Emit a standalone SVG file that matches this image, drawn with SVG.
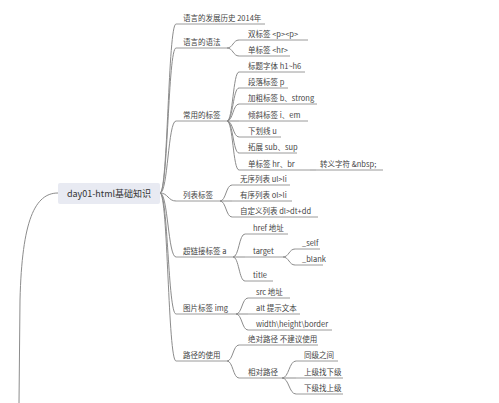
<svg xmlns="http://www.w3.org/2000/svg" width="499" height="403" viewBox="0 0 499 403">
<style>
.c{fill:none;stroke:#8c8c8c;stroke-width:1}
.u{fill:none;stroke:#9a9a9a;stroke-width:1}
.t{font-family:"Noto Sans CJK SC","Noto Sans",sans-serif;font-size:7.5px;fill:#444}
.r{font-family:"Noto Sans CJK SC","Noto Sans",sans-serif;font-size:9px;fill:#333}
</style>
<rect width="499" height="403" fill="#fff"/>
<g id="connectors">
<path class="c" d="M58,193 C35,193 22,220 20,300 L19,403"/>
<path class="c" d="M160,193 C168,193 168,24 176,24"/>
<path class="c" d="M160,193 C168,193 168,48 176,48"/>
<path class="c" d="M160,193 C168,193 168,121 176,121"/>
<path class="c" d="M160,193 C168,193 168,201 176,201"/>
<path class="c" d="M160,193 C168,193 168,257 176,257"/>
<path class="c" d="M160,193 C168,193 168,314 176,314"/>
<path class="c" d="M160,193 C168,193 168,361 176,361"/>
<path class="c" d="M227,48 C233,48 233,40 239,40"/>
<path class="c" d="M227,48 C233,48 233,56 239,56"/>
<path class="c" d="M227,121 C233,121 233,72 239,72"/>
<path class="c" d="M227,121 C233,121 233,88 239,88"/>
<path class="c" d="M227,121 C233,121 233,104 239,104"/>
<path class="c" d="M227,121 L239,121"/>
<path class="c" d="M227,121 C233,121 233,137 239,137"/>
<path class="c" d="M227,121 C233,121 233,153 239,153"/>
<path class="c" d="M227,121 C233,121 233,170 239,170"/>
<path class="c" d="M310,170 L316,170"/>
<path class="c" d="M220,201 C226,201 226,185 232,185"/>
<path class="c" d="M220,201 L232,201"/>
<path class="c" d="M220,201 C226,201 226,217 232,217"/>
<path class="c" d="M233,257 C239,257 239,234 245,234"/>
<path class="c" d="M233,257 L245,257"/>
<path class="c" d="M233,257 C239,257 239,281 245,281"/>
<path class="c" d="M283,257 C289,257 289,249 295,249"/>
<path class="c" d="M283,257 C289,257 289,265 295,265"/>
<path class="c" d="M236,314 C242,314 242,298 248,298"/>
<path class="c" d="M236,314 L248,314"/>
<path class="c" d="M236,314 C242,314 242,330 248,330"/>
<path class="c" d="M227,361 C233,361 233,345 239,345"/>
<path class="c" d="M227,361 C233,361 233,378 239,378"/>
<path class="c" d="M282,378 C289,378 289,361 296,361"/>
<path class="c" d="M282,378 L296,378"/>
<path class="c" d="M282,378 C289,378 289,394 296,394"/>
</g>
<g id="root">
<rect x="58" y="183" width="102" height="21" rx="2" fill="#e8eaf2"/>
<text class="r" x="109" y="196.5" text-anchor="middle">day01-html基础知识</text>
</g>
<g id="n1"><path class="u" d="M176,24 H265"/><text class="t" x="183" y="20.5">语言的发展历史 2014年</text></g>
<g id="n2"><path class="u" d="M176,48 H227"/><text class="t" x="183" y="44.5">语言的语法</text></g>
<g id="n3"><path class="u" d="M176,121 H227"/><text class="t" x="183" y="117.5">常用的标签</text></g>
<g id="n4"><path class="u" d="M176,201 H220"/><text class="t" x="183" y="197.5">列表标签</text></g>
<g id="n5"><path class="u" d="M176,257 H233"/><text class="t" x="183" y="253.5">超链接标签 a</text></g>
<g id="n6"><path class="u" d="M176,314 H236"/><text class="t" x="183" y="310.5">图片标签 img</text></g>
<g id="n7"><path class="u" d="M176,361 H227"/><text class="t" x="183" y="357.5">路径的使用</text></g>
<g id="n2a"><path class="u" d="M239,40 H308"/><text class="t" x="248" y="36.5">双标签 &lt;p&gt;&lt;p&gt;</text></g>
<g id="n2b"><path class="u" d="M239,56 H290"/><text class="t" x="248" y="52.5">单标签 &lt;hr&gt;</text></g>
<g id="n3a"><path class="u" d="M239,72 H305"/><text class="t" x="248" y="68.5">标题字体 h1~h6</text></g>
<g id="n3b"><path class="u" d="M239,88 H288"/><text class="t" x="248" y="84.5">段落标签 p</text></g>
<g id="n3c"><path class="u" d="M239,104 H317"/><text class="t" x="248" y="100.5">加粗标签 b、strong</text></g>
<g id="n3d"><path class="u" d="M239,121 H308"/><text class="t" x="248" y="117.5">倾斜标签 i、em</text></g>
<g id="n3e"><path class="u" d="M239,137 H281"/><text class="t" x="248" y="133.5">下划线 u</text></g>
<g id="n3f"><path class="u" d="M239,153 H297"/><text class="t" x="248" y="149.5">拓展 sub、sup</text></g>
<g id="n3g"><path class="u" d="M239,170 H310"/><text class="t" x="248" y="166.5">单标签 hr、br</text></g>
<g id="n3g1"><path class="u" d="M316,170 H383"/><text class="t" x="320" y="166.5">转义字符  &amp;nbsp;</text></g>
<g id="n4a"><path class="u" d="M232,185 H290"/><text class="t" x="240" y="181.5">无序列表 ul&gt;li</text></g>
<g id="n4b"><path class="u" d="M232,201 H292"/><text class="t" x="240" y="197.5">有序列表 ol&gt;li</text></g>
<g id="n4c"><path class="u" d="M232,217 H318"/><text class="t" x="240" y="213.5">自定义列表 dl&gt;dt+dd</text></g>
<g id="n5a"><path class="u" d="M245,234 H288"/><text class="t" x="253" y="230.5">href 地址</text></g>
<g id="n5b"><path class="u" d="M245,257 H283"/><text class="t" x="253" y="253.5">target</text></g>
<g id="n5b1"><path class="u" d="M295,249 H320"/><text class="t" x="302" y="245.5">_self</text></g>
<g id="n5b2"><path class="u" d="M295,265 H323"/><text class="t" x="302" y="261.5">_blank</text></g>
<g id="n5c"><path class="u" d="M245,281 H273"/><text class="t" x="253" y="277.5">title</text></g>
<g id="n6a"><path class="u" d="M248,298 H290"/><text class="t" x="256" y="294.5">src 地址</text></g>
<g id="n6b"><path class="u" d="M248,314 H300"/><text class="t" x="256" y="310.5">alt 提示文本</text></g>
<g id="n6c"><path class="u" d="M248,330 H332"/><text class="t" x="256" y="326.5">width\height\border</text></g>
<g id="n7a"><path class="u" d="M239,345 H318"/><text class="t" x="248" y="341.5">绝对路径 不建议使用</text></g>
<g id="n7b"><path class="u" d="M239,378 H282"/><text class="t" x="248" y="374.5">相对路径</text></g>
<g id="n7b1"><path class="u" d="M296,361 H338"/><text class="t" x="304" y="357.5">同级之间</text></g>
<g id="n7b2"><path class="u" d="M296,378 H343"/><text class="t" x="304" y="374.5">上级找下级</text></g>
<g id="n7b3"><path class="u" d="M296,394 H343"/><text class="t" x="304" y="390.5">下级找上级</text></g>
</svg>
